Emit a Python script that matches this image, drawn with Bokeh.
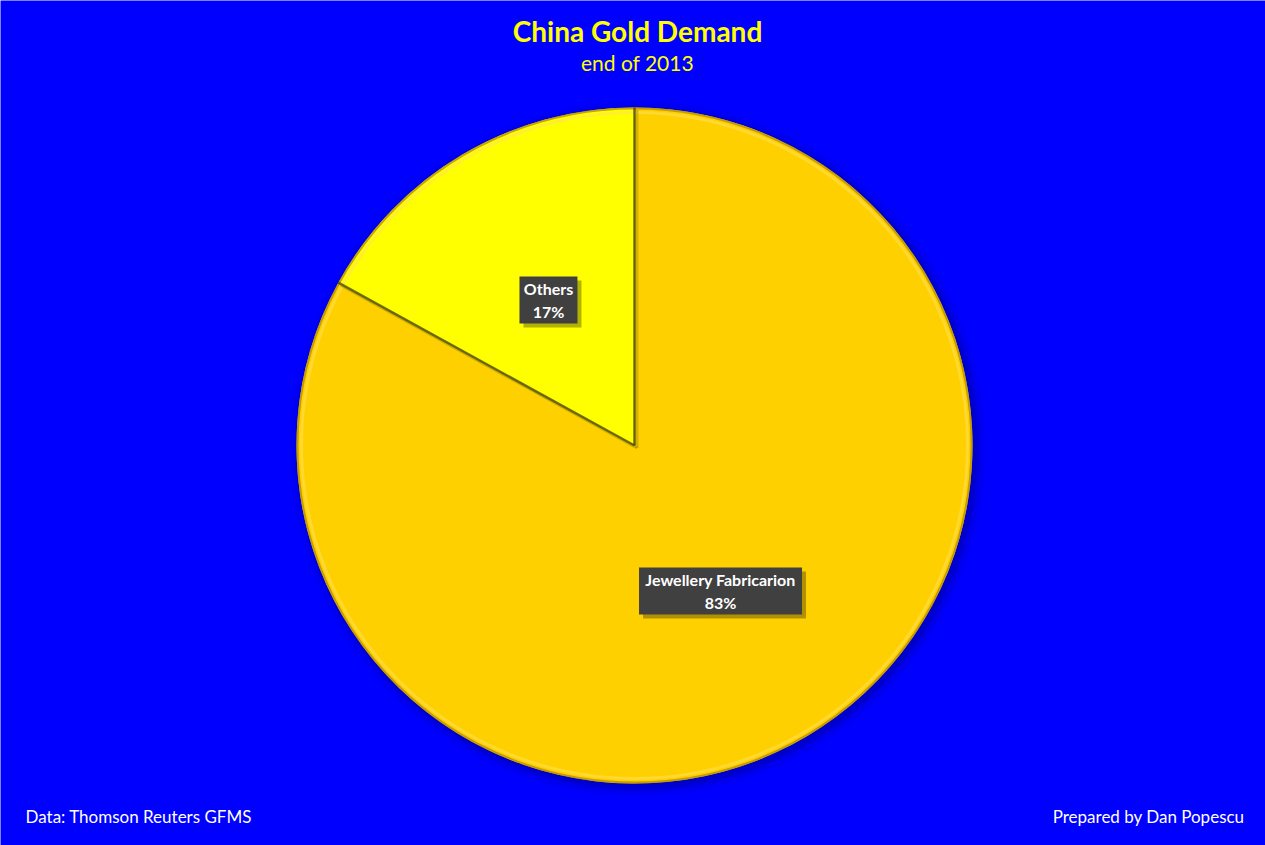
import numpy as np
from bokeh.plotting import figure
from bokeh.models import Range1d, Label
from bokeh.core.properties import value
from bokeh.embed import file_html
from bokeh.resources import INLINE

# ---- data ----
categories = ["Jewellery Fabricarion", "Others"]
shares = [83, 17]
slice_colors = ["#FFD000", "#FFFF00"]
title = "China Gold Demand"
subtitle = "end of 2013"
source_note = "Data: Thomson Reuters GFMS"
author_note = "Prepared by Dan Popescu"

FONT = "Lato"
W, H = 1265, 845
p = figure(width=W, height=H, x_range=Range1d(0, W), y_range=Range1d(0, H),
           output_backend="svg", toolbar_location=None, min_border=0,
           x_axis_type=None, y_axis_type=None)
p.grid.visible = False
p.outline_line_color = None
p.background_fill_color = "#0000FF"
p.border_fill_color = "#0000FF"

def sy(y):  # screen y -> data y
    return H - y

cx, cy, R = 634, sy(445), 338

# shadow glow around pie
for k, a in [(10, 0.05), (7, 0.07), (4, 0.10), (2, 0.14)]:
    p.circle(x=cx + 3, y=cy - 3, radius=R + k, fill_color="#000060", fill_alpha=a,
             line_color=None)

vals = np.array(shares, dtype=float)
frac = vals / vals.sum()
cum = np.concatenate([[0], np.cumsum(frac)])
start = np.deg2rad(90 - 360 * cum[:-1])
end = np.deg2rad(90 - 360 * cum[1:])

p.wedge(x=cx, y=cy, radius=R, start_angle=start, end_angle=end, direction="clock",
        fill_color=slice_colors, line_color=None)

# bevel rim
p.circle(x=cx, y=cy, radius=R - 1, fill_color=None, line_color="#B89000", line_width=2, line_alpha=0.8)
p.circle(x=cx, y=cy, radius=R - 5, fill_color=None, line_color="#FFE060", line_width=3, line_alpha=0.5)

# slice borders (shaded edges)
for ang in start:
    x1 = cx + R * np.cos(ang)
    y1 = cy + R * np.sin(ang)
    p.line([cx, x1], [cy, y1], line_color="#3A3A00", line_width=2.5, line_alpha=0.7)
    p.line([cx + 2.5, x1 + 2.5], [cy - 2.5, y1 - 2.5], line_color="#6A6A00", line_width=3, line_alpha=0.3)

# data labels
mid = (start + end) / 2
for cat, v, a in zip(categories, shares, mid):
    lx = cx + 0.5 * R * np.cos(a)
    ly = cy + 0.5 * R * np.sin(a)
    txt = f"{cat}\n{v}%"
    bw = 7.0 * max(len(cat), 3) + 16
    bh = 47
    p.rect(x=lx + 4, y=ly - 4, width=bw, height=bh, fill_color="#000000", fill_alpha=0.3,
           line_color=None)
    p.rect(x=lx, y=ly, width=bw, height=bh, fill_color="#404040", line_color=None)
    p.text(x=[lx], y=[ly], text=[txt], text_align="center", text_baseline="middle",
           text_color="white", text_font=value(FONT), text_font_style="bold",
           text_font_size="16px", text_line_height=1.25)

p.add_layout(Label(x=637, y=sy(30), text=title, text_align="center", text_baseline="middle",
                   text_color="#FFFF00", text_font=FONT, text_font_style="bold",
                   text_font_size="28px"))
p.add_layout(Label(x=637, y=sy(62), text=subtitle, text_align="center", text_baseline="middle",
                   text_color="#FFFF00", text_font=FONT, text_font_size="21px"))
p.add_layout(Label(x=25, y=sy(816), text=source_note, text_align="left", text_baseline="middle",
                   text_color="white", text_font=FONT, text_font_size="17px"))
p.add_layout(Label(x=1244, y=sy(816), text=author_note, text_align="right", text_baseline="middle",
                   text_color="white", text_font=FONT, text_font_size="17px"))

open("out.html", "w").write(file_html(p, INLINE))
